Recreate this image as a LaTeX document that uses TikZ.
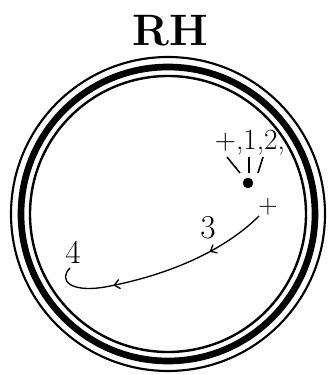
\documentclass[tikz,border=0pt]{standalone}
\usetikzlibrary{calc,arrows.meta,decorations.markings,positioning}

\begin{document}
\begin{tikzpicture}[x=0.75pt, y=0.75pt, thick, font=\fontsize{25}{27}\selectfont,
        lbl/.style={inner sep=0pt},
        midarrows/.style={postaction={decorate}, decoration={markings,
            mark=at position 0.27 with {\arrow{Straight Barb[length=4pt,width=7pt]}},
            mark=at position 0.72 with {\arrow{Straight Barb[length=4pt,width=7pt]}}}}]
        \useasboundingbox (0,0) rectangle (328,375);
        \coordinate (c) at (168,161);
        \draw[line width=1.6pt] (c) circle (157);
        \draw[line width=5pt] (c) circle (147);
        \draw[line width=1.8pt] (c) circle (138);
        \node[font=\fontsize{33}{36}\selectfont\bfseries] (title) at (170,344) {RH};
        \node[lbl, anchor=base, font=\fontsize{22}{24}\selectfont] (charges) at (250,225) {+,1,2,};
        \node[draw, fill, circle, minimum size=7pt, inner sep=0pt] (dot) at (248,192) {};
        \node[lbl, font=\fontsize{20}{22}\selectfont] (pl) at (268,168) {+};
        \node[lbl] (three) at (208,147) {3};
        \node[lbl] (four) at (73,123) {4};
        \coordinate (hook) at (70,107);
        \foreach \a/\b in {-21/-8, 1/1, 15/10}
            \draw[line width=1.2pt] ($(dot)+(\a,26)$) -- ($(dot)+(\b,10)$);
        \draw[line width=1pt, midarrows] (pl.225) .. controls (225,125) and (170,100) .. (105,88)
            .. controls (70,82) and (58,95) .. (hook);
    \end{tikzpicture}
\end{document}
